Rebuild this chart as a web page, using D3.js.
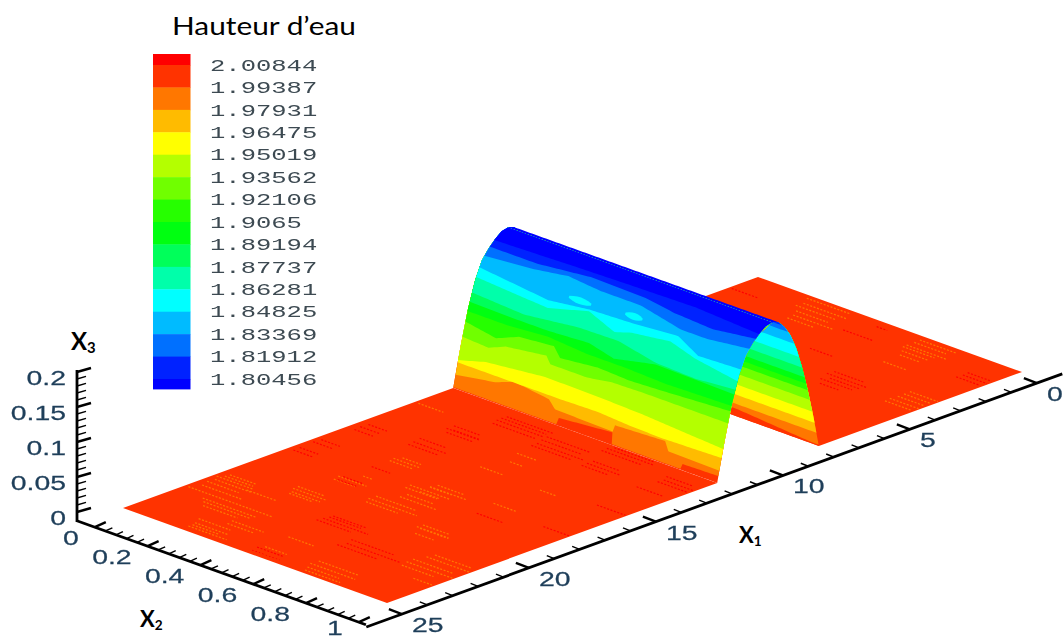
<!DOCTYPE html>
<html><head><meta charset="utf-8">
<style>html,body{margin:0;padding:0;background:#fff}svg{display:block}</style>
<script src="https://cdn.jsdelivr.net/npm/d3@7"></script></head>
<body><svg id="c" width="1064" height="639"></svg>
<script>
// ---- legend ----
const levelLabels = ["2.00844","1.99387","1.97931","1.96475","1.95019","1.93562","1.92106","1.9065","1.89194","1.87737","1.86281","1.84825","1.83369","1.81912","1.80456"];
const levelValues = [2.00844,1.99387,1.97931,1.96475,1.95019,1.93562,1.92106,1.9065,1.89194,1.87737,1.86281,1.84825,1.83369,1.81912,1.80456];
const bandColors = ["#ff0000","#ff3300","#ff7700","#ffbb00","#ffff00","#b4ff00","#70ff00","#26ff00","#00ff11","#00ff5a","#00ffaa","#00ffff","#00bbff","#0070ff","#0022ff","#0000ff"];
// ---- hump profile (X1, X3) ----
const frontX1 = [12,11.75,11.5,11.25,11,10.75,10.5,10.25,10];
const frontX3 = [0,.056,.105,.142,.167,.18,.19,.198,.2];
const backX1  = [8,8.25,8.5,8.75,9,9.25,9.5,9.75,10];
const backX3  = [0,.045,.085,.12,.15,.172,.187,.197,.2];
// ---- contour boundaries on the front slope: X2 stations and X3 height ----
const frontContourX2 = [
 [0,.39,.395,.595,.6,.86,.865,1],
 [0,.146,.214,.348,.376,.595,.6,.788,.806,1],
 [0,.1,.39,.53,.66,.78,1],
 [0,.1,.32,.53,.69,1],
 [0,.1,.16,.31,.33,.47,.56,.67,1],
 [0,.12,.2,.33,.36,.5,.62,.75,1],
 [0,.15,.3,.45,.6,.75,1],
 [0,.15,.3,.45,.55,.7,.85,1],
 [0,.2,.4,.55,.7,.85,1],
 [0,.277,.42,.53,.587,.73,.83,1],
 [0,.15,.27,.42,.58,.75,.84,1],
 [0,.18,.3,.43,.58,.75,.85,1],
 [0,.18,.37,.58,.7,.85,1],
 [0,.3,.5,.75,1]];
const frontContourX3 = [
 [.001,.001,.010,.016,.001,.001,.008,.009],
 [.0175,.026,.035,.029,.019,.017,.026,.029,.0175,.016],
 [.034,.034,.034,.035,.032,.031,.033],
 [.037,.047,.055,.054,.052,.045],
 [.068,.066,.075,.082,.073,.073,.078,.079,.079],
 [.088,.081,.093,.097,.085,.09,.088,.09,.095],
 [.102,.102,.106,.102,.102,.1,.102],
 [.114,.113,.113,.116,.108,.119,.118,.117],
 [.126,.122,.13,.131,.121,.119,.123],
 [.146,.14,.153,.14,.146,.152,.143,.134],
 [.158,.153,.149,.155,.157,.161,.147,.149],
 [.172,.176,.181,.178,.178,.169,.169,.174],
 [.182,.182,.187,.186,.182,.18,.185],
 [.189,.191,.192,.193,.19]];
// ---- contour boundaries on the rear slope (seen at the open end) ----
const backContourX2 = [[0,.7,.97,1],[0,1],[0,1],[0,1],[0,1],[0,1],[0,1],[0,1],[0,1],[0,1],[0,1],[0,1],[0,1],[0,1]];
const backContourX3 = [[.012,.012,.002,.002],[.02,.02],[.035,.035],[.052,.052],[.07,.07],[.085,.085],[.095,.095],[.105,.105],[.12,.12],[.137,.137],[.158,.158],[.178,.178],[.19,.19],[.197,.197]];
// ---- isolated contour islands: colour band, X2 from/to, X3 centre, half height ----
const islandBand = [11,11,14,14];
const islandX2From = [.336,.545,.41,.2];
const islandX2To = [.42,.61,.49,.25];
const islandX3 = [.161,.165,.189,.187];
const islandHalf = [.004,.004,.0018,.002];
// ---- streaks on the flat plates: X1, X2 from, X2 length, colour band ----
const streakX1 = [22.56,21.43,21.27,21.64,21.6,23.08,24.39,24.7,23.56,20.6,20.81,19.05,18.56,19.67,18.13,18.96,17.83,17,13.52,23.33,24.32,24.76,20.26,20.66,24.34,24.81,22.37,21.71,23.14,17.86,18.3,15.76,14.31,14.91,17.49,15.86,20.29,
  22.2,21.9,21.1,22.9,23.3,24.1,24.55,23.8,20.4,20.95,19.3,19.4,19.9,18.35,17.6,18.7,17.2,16.8,24.05,24.6,22.1,21.45,22.65,20.05,
  22.54,24.76,15.71,14.33,15.93,18.51,17.67,21.64,21.32,18.98,17.88,14.29,12.9,12.52,13.38,12.83,18.36,15.56,17.78,13.48,12.28,12.89,13.79,
  12.7,13.15,13.6,13.1,14.55,15.95,14.05,15.4,12.1,12.5,12.65,13.1,13.25,13.7,21.45,21.85,22.25,22.8,24.5,19.25,16.2,15.65,18.25,17.4,
  .54,.2,1.38,.79,1.46,.26,2.15,4.02,3.26,.8,1.1,.95,1.2,.5,3.5,3.75,4.25,1.65,
  3.89,4.1,2.86,1.21,1.32,1.14,4.57,.38,4.3,3.65,1.55,1.1];
const streakX2 = [.013,.011,.027,.025,.141,.12,.214,.219,.274,.221,.236,.243,.29,.417,.426,.468,.473,.255,.014,.466,.473,.465,.657,.689,.646,.671,.821,.833,.921,.476,.48,.464,.464,.495,.681,.7,.672,
  .03,.02,.03,.1,.14,.2,.22,.28,.22,.24,.25,.42,.43,.43,.48,.47,.26,.27,.65,.66,.82,.84,.83,.66,
  .611,.465,.206,.199,.026,.021,.015,.435,.442,.255,.257,.221,.251,.253,.45,.434,.701,.887,.898,.649,.609,.883,.867,
  .25,.26,.45,.44,.22,.21,.2,.2,.62,.61,.87,.88,.65,.65,.44,.43,.6,.6,.46,.26,.03,.03,.02,.02,
  .224,.204,.266,.639,.678,.638,.682,.886,.889,.22,.25,.64,.66,.64,.89,.89,.89,.27,
  .635,.667,.472,.439,.903,.01,.674,.486,.65,.64,.9,.9];
const streakLen = [.316,.139,.107,.139,.114,.177,.126,.145,.12,.126,.107,.107,.038,.183,.152,.139,.139,.1,.095,.095,.082,.107,.12,.07,.17,.133,.177,.167,.07,.082,.076,.088,.076,.05,.088,.063,.107,
  .15,.12,.1,.2,.13,.12,.1,.1,.1,.09,.08,.15,.12,.12,.1,.1,.09,.07,.15,.12,.15,.14,.12,.1,
  .2,.107,.126,.126,.076,.076,.076,.17,.126,.076,.07,.1,.177,.177,.177,.164,.1,.113,.1,.126,.177,.116,.1,
  .17,.16,.15,.15,.1,.11,.1,.1,.15,.15,.1,.11,.1,.1,.12,.13,.16,.15,.1,.07,.07,.07,.07,.07,
  .164,.164,.15,.15,.076,.139,.088,.114,.11,.15,.12,.12,.1,.12,.1,.1,.1,.1,
  .15,.11,.088,.11,.1,.1,.07,.04,.12,.11,.09,.09];
const streakBand = [2,2,2,2,2,2,2,2,2,2,2,2,2,2,2,2,2,2,2,2,2,2,2,2,2,2,2,2,2,2,2,2,2,2,2,2,2,
  2,2,2,2,2,2,2,2,2,2,2,2,2,2,2,2,2,2,2,2,2,2,2,2,
  0,0,0,0,0,0,0,0,0,0,0,0,0,0,0,0,0,0,0,0,0,0,0,
  0,0,0,0,0,0,0,0,0,0,0,0,0,0,0,0,0,0,0,0,0,0,0,0,
  2,2,2,2,2,2,2,2,2,2,2,2,2,2,2,2,2,2,
  0,0,0,0,0,0,0,0,0,0,0,0];
// ---- axes ----
const x1Ticks = [0,5,10,15,20,25];
const x2Ticks = [0,.2,.4,.6,.8,1];
const x3Ticks = [0,.05,.1,.15,.2];

// ---- oblique projection built from D3 scales ----
const u = {x:d3.scaleLinear([0,25],[0,-635]), y:d3.scaleLinear([0,25],[0,231])};
const v = {x:d3.scaleLinear([0,1],[0,264]),   y:d3.scaleLinear([0,1],[0,95])};
const w = {x:d3.scaleLinear([0,.2],[0,4]),    y:d3.scaleLinear([0,.2],[0,-142])};
const project = (a,b,c=0)=>[758+u.x(a)+v.x(b)+w.x(c), 277+u.y(a)+v.y(b)+w.y(c)];

const svg = d3.select("#c");
const line = d3.line();
const poly = (g,pts,fill)=>g.append("path").attr("d",line(pts)+"Z").attr("fill",fill);
const frontOf = d3.scaleLinear(frontX3,frontX1);
const backOf  = d3.scaleLinear(backX3,backX1);

function bandPath(side,kx2,kz){
  const at = d3.scaleLinear(kx2,kz);
  const xs = d3.merge([d3.range(0,1.0001,.01),kx2]).sort(d3.ascending);
  const pts = xs.map(b=>{const c=at(b);return project(side(c),b,c)});
  const up = (from)=>d3.range(0,1.0001,.05).map(t=>from+(.2-from)*t);
  up(at(1)).forEach(c=>pts.push(project(side(c),1,c)));
  pts.push(project(10,0,.2));
  up(at(0)).reverse().forEach(c=>pts.push(project(side(c),0,c)));
  return pts;
}
function drawStreaks(g,test){
  streakX1.forEach((a,i)=>{
    if(!test(a)) return;
    const b0=streakX2[i], b1=Math.min(.995,b0+streakLen[i]);
    g.append("path").attr("d",line([project(a,b0),project(a,b1)]))
      .attr("stroke",bandColors[streakBand[i]]).attr("stroke-width",1.2)
      .attr("stroke-dasharray","2 1.6").attr("fill","none");
  });
}

const surf = svg.append("g").attr("style","filter:blur(.25px)");
// rear plate
poly(surf,[project(0,0),project(0,1),project(8,1),project(8,0)],bandColors[1]);
drawStreaks(surf,a=>a<8);
// rear slope
poly(surf,bandPath(backOf,[0,1],[0,0]),bandColors[1]);
backContourX2.forEach((k,i)=>poly(surf,bandPath(backOf,k,backContourX3[i]),bandColors[i+2]));
// front slope
poly(surf,bandPath(frontOf,[0,1],[0,0]),bandColors[1]);
frontContourX2.forEach((k,i)=>poly(surf,bandPath(frontOf,k,frontContourX3[i]),bandColors[i+2]));
islandBand.forEach((bd,i)=>{
  const xs=d3.range(islandX2From[i],islandX2To[i]+.0001,(islandX2To[i]-islandX2From[i])/6);
  const mid=(xs.length-1)/2, h=(j)=>islandHalf[i]*(1-Math.pow((j-mid)/(mid+.6),2));
  const lo=xs.map((b,j)=>{const c=islandX3[i]-h(j);return project(frontOf(c),b,c)});
  const hi=xs.map((b,j)=>{const c=islandX3[i]+h(j);return project(frontOf(c),b,c)}).reverse();
  poly(surf,lo.concat(hi),bandColors[bd]);
});
// front plate
poly(surf,[project(12,0),project(12,1),project(25,1),project(25,0)],bandColors[1]);
drawStreaks(surf,a=>a>12);

// ---- axes ----
const ax = svg.append("g").attr("style","filter:blur(.25px)").attr("stroke","#000").attr("fill","none").attr("stroke-linecap","butt");
const seg=(a,b,sw)=>ax.append("path").attr("d",line([a,b])).attr("stroke-width",sw);
const tickLabel=(txt,x,y,anchor)=>svg.append("text").text(txt)
  .attr("transform",`translate(${x},${Math.min(y,634.5)}) scale(1.42,1)`).attr("text-anchor",anchor)
  .attr("font-family","Liberation Sans").attr("font-size",20).attr("fill","#1f3f5a")
  .attr("stroke","#1f3f5a").attr("stroke-width",.25)
  .attr("style","filter:blur(.3px)");

// X1 axis
const x1Base = a=>project(a,1.057,-.008);
seg(x1Base(-1),x1Base(26.4),2.8);
d3.range(0,26).forEach(a=>{
  const p=x1Base(a), major=a%5===0;
  seg(p,[p[0]-(major?13:7.5),p[1]-(major?5:3)],major?2.4:1.4);
});
x1Ticks.forEach(a=>{const p=x1Base(a);tickLabel(a,p[0]+10,p[1]+18,"start")});
// X2 axis
const x2Base = b=>project(26.1,b,-.0127);
seg(x2Base(-.068),x2Base(1.027),2.8);
d3.range(0,26).forEach(i=>{
  const b=i*.04, p=x2Base(b), major=i%5===0;
  seg(p,[p[0]+(major?11:7),p[1]-(major?5:3.2)],major?2.4:1.4);
});
x2Ticks.forEach(b=>{const p=x2Base(b);tickLabel(b,p[0]-16,p[1]+17.5,"end")});
// X3 axis
const x3Scale = d3.scaleLinear([0,.2],[512,372]);
seg([77,370],[77,522],2.8);
d3.range(0,21).forEach(i=>{
  const y=x3Scale(i*.01), major=i%5===0;
  seg([77,y],[77+(major?14:9),y-(major?4:2.6)],major?2.4:1.4);
});
x3Ticks.forEach(c=>tickLabel(c,66,x3Scale(c)+12.5,"end"));

// ---- axis titles ----
function axisTitle(x,y,sub,size){
  const t=svg.append("text").attr("x",x).attr("y",y).attr("font-family","Lato").attr("font-weight",700).attr("font-size",size).attr("fill","#000");
  t.append("tspan").text("X");
  t.append("tspan").text(sub).attr("font-size",size*.62).attr("dy",3);
}
axisTitle(71,350,"3",24);
axisTitle(140,627,"2",22);
axisTitle(739,543,"1",22);

// ---- legend ----
const leg = d3.scaleLinear([levelValues[0],levelValues[14]],[65,379]);
const edges = [54].concat(levelValues.map(leg),[389]);
const lg = svg.append("g");
bandColors.forEach((c,i)=>lg.append("rect").attr("x",153).attr("y",edges[i]).attr("width",37.5).attr("height",edges[i+1]-edges[i]+.4).attr("fill",c));
levelLabels.forEach((s,i)=>svg.append("text").text(s)
  .attr("transform",`translate(210,${leg(levelValues[i])+5.7}) scale(1.52,1)`)
  .attr("font-family","Liberation Mono").attr("font-size",16.8).attr("fill","#3d4a52")
  .attr("style","filter:blur(.3px)"));

svg.append("text").text("Hauteur d’eau").attr("x",172).attr("y",35)
  .attr("font-family","Lato").attr("font-size",25).attr("fill","#000")
  .attr("textLength",184).attr("lengthAdjust","spacingAndGlyphs");
</script></body></html>
